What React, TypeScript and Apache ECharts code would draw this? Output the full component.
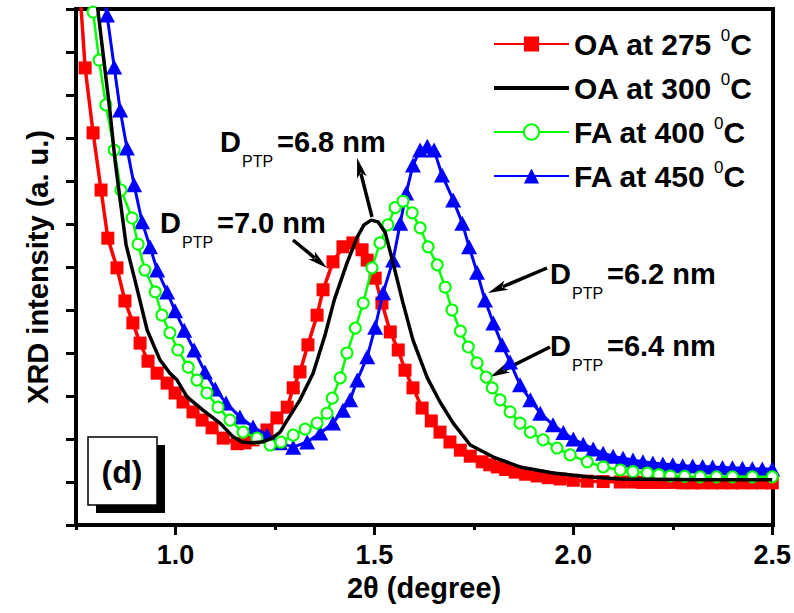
import React, { useEffect, useRef } from 'react';
import * as echarts from 'echarts';

// Series names (legend order)
const seriesNames = ['OA at 275 °C', 'OA at 300 °C', 'FA at 400 °C', 'FA at 450 °C'];

// x tick labels shown on the axis
const xMajorTicks = [1.0, 1.5, 2.0, 2.5];
const xMinorTicks = [0.75, 1.25, 1.75, 2.25];

// OA at 275 °C (red squares)
const oa275: number[][] = [
  [0.758, 12.67], [0.773, 10.63], [0.793, 9.12], [0.813, 7.79], [0.830, 6.67], [0.853, 5.98],
  [0.873, 5.21], [0.893, 4.70], [0.911, 4.23], [0.931, 3.81], [0.954, 3.53], [0.979, 3.30],
  [0.999, 3.07], [1.019, 2.86], [1.044, 2.63], [1.067, 2.44], [1.092, 2.26], [1.120, 2.02],
  [1.155, 1.89], [1.175, 1.91], [1.195, 1.98], [1.230, 2.21], [1.255, 2.49], [1.281, 2.74],
  [1.296, 3.19], [1.313, 3.56], [1.333, 4.19], [1.356, 4.88], [1.371, 5.47], [1.396, 6.12],
  [1.421, 6.47], [1.446, 6.56], [1.469, 6.40], [1.482, 6.16], [1.502, 5.74], [1.519, 5.16],
  [1.540, 4.49], [1.560, 4.07], [1.577, 3.60], [1.597, 3.19], [1.620, 2.72], [1.643, 2.42],
  [1.665, 2.16], [1.690, 1.93], [1.716, 1.74], [1.741, 1.60], [1.771, 1.47], [1.790, 1.40],
  [1.809, 1.35], [1.830, 1.29], [1.854, 1.23], [1.880, 1.18], [1.909, 1.14], [1.937, 1.10],
  [1.967, 1.07], [2.000, 1.04], [2.035, 1.02], [2.075, 1.01], [2.118, 1.00], [2.150, 1.00],
  [2.175, 0.99], [2.200, 0.99], [2.225, 0.99], [2.250, 0.99], [2.275, 0.98], [2.300, 0.98],
  [2.325, 0.98], [2.350, 0.98], [2.375, 0.98], [2.400, 0.98], [2.425, 0.98], [2.450, 0.98],
  [2.475, 0.98], [2.500, 0.98],
];

// OA at 300 °C (black line)
const oa300: number[][] = [
  [0.795, 12.67], [0.805, 11.98], [0.820, 10.81], [0.835, 9.65], [0.848, 8.49], [0.861, 7.56],
  [0.876, 6.51], [0.898, 5.70], [0.929, 4.53], [0.961, 3.84], [0.986, 3.53], [1.004, 3.37],
  [1.029, 2.98], [1.069, 2.67], [1.112, 2.37], [1.145, 2.05], [1.167, 1.93], [1.188, 1.91],
  [1.218, 1.93], [1.243, 2.02], [1.263, 2.16], [1.281, 2.44], [1.313, 2.91], [1.346, 3.53],
  [1.376, 4.42], [1.399, 5.23], [1.431, 6.09], [1.457, 6.70], [1.474, 6.98], [1.492, 7.09],
  [1.509, 7.05], [1.527, 6.81], [1.547, 6.09], [1.572, 5.16], [1.597, 4.30], [1.633, 3.42],
  [1.665, 2.86], [1.698, 2.37], [1.741, 1.86], [1.799, 1.58], [1.866, 1.35], [1.949, 1.21],
  [2.035, 1.12], [2.118, 1.07], [2.319, 1.05], [2.500, 1.05],
];

// FA at 400 °C (green open circles)
const fa400: number[][] = [
  [0.785, 12.56], [0.793, 11.93], [0.808, 10.81], [0.825, 9.77], [0.846, 8.72], [0.863, 7.79],
  [0.891, 7.14], [0.906, 6.53], [0.923, 5.93], [0.949, 5.42], [0.966, 4.88], [0.986, 4.47],
  [1.006, 4.07], [1.032, 3.67], [1.054, 3.37], [1.079, 3.07], [1.107, 2.74], [1.137, 2.44],
  [1.170, 2.16], [1.205, 2.02], [1.238, 1.86], [1.265, 1.93], [1.296, 2.09], [1.326, 2.23],
  [1.356, 2.37], [1.381, 2.60], [1.394, 2.95], [1.414, 3.42], [1.431, 4.00], [1.452, 4.58],
  [1.472, 5.16], [1.494, 5.98], [1.514, 6.56], [1.534, 6.98], [1.552, 7.38], [1.572, 7.53],
  [1.595, 7.26], [1.615, 6.91], [1.635, 6.47], [1.658, 6.05], [1.678, 5.53], [1.695, 5.00],
  [1.716, 4.51], [1.736, 4.14], [1.758, 3.77], [1.781, 3.44], [1.796, 3.19], [1.816, 2.91],
  [1.841, 2.63], [1.866, 2.37], [1.892, 2.16], [1.924, 1.98], [1.959, 1.79], [1.992, 1.63],
  [2.035, 1.47], [2.075, 1.35], [2.118, 1.28], [2.150, 1.24], [2.186, 1.21], [2.215, 1.17],
  [2.244, 1.14], [2.280, 1.13], [2.319, 1.12], [2.360, 1.12], [2.400, 1.12], [2.450, 1.12],
  [2.500, 1.12],
];

// FA at 450 °C (blue triangles)
const fa450: number[][] = [
  [0.810, 12.67], [0.828, 11.86], [0.846, 10.65], [0.861, 9.65], [0.878, 8.77], [0.896, 7.91],
  [0.916, 7.05], [0.936, 6.47], [0.954, 5.93], [0.979, 5.42], [0.999, 4.98], [1.022, 4.53],
  [1.047, 4.07], [1.074, 3.56], [1.100, 3.16], [1.127, 2.84], [1.162, 2.51], [1.195, 2.28],
  [1.230, 2.09], [1.263, 1.91], [1.296, 1.81], [1.331, 1.93], [1.364, 2.14], [1.396, 2.37],
  [1.421, 2.67], [1.439, 2.91], [1.457, 3.37], [1.482, 3.91], [1.502, 4.60], [1.522, 5.40],
  [1.547, 6.16], [1.565, 7.02], [1.580, 7.72], [1.597, 8.37], [1.615, 8.72], [1.633, 8.81],
  [1.650, 8.72], [1.670, 8.14], [1.698, 7.56], [1.721, 7.02], [1.738, 6.47], [1.758, 5.88],
  [1.778, 5.23], [1.799, 4.70], [1.821, 4.19], [1.841, 3.79], [1.866, 3.26], [1.892, 2.91],
  [1.917, 2.60], [1.949, 2.33], [1.975, 2.15], [2.000, 2.00], [2.025, 1.88], [2.050, 1.77],
  [2.075, 1.67], [2.100, 1.60], [2.125, 1.55], [2.150, 1.51], [2.175, 1.47], [2.200, 1.44],
  [2.225, 1.42], [2.250, 1.40], [2.275, 1.38], [2.300, 1.37], [2.325, 1.36], [2.350, 1.35],
  [2.375, 1.34], [2.400, 1.33], [2.425, 1.32], [2.450, 1.31], [2.475, 1.30], [2.500, 1.30],
];

// Annotation values (crystallite size, nm)
const dptpValues = ['6.8', '7.0', '6.2', '6.4'];

// Annotation layout: left of "D", cap centre y, arrow tail, arrow head
const annLayout = [
  { x: 220, y: 142, tail: [372, 217], head: [357, 158] },
  { x: 160, y: 223, tail: [293, 240], head: [327, 268] },
  { x: 550, y: 274, tail: [547, 268], head: [488, 293] },
  { x: 550, y: 346, tail: [550, 347], head: [490, 377] },
];

const FONT = '"Liberation Sans", Arial, Helvetica, sans-serif';

function arrow(t: number[], h: number[]) {
  const dx = h[0] - t[0];
  const dy = h[1] - t[1];
  const L = Math.hypot(dx, dy);
  const ux = dx / L;
  const uy = dy / L;
  const hl = 20;
  const hw = 5;
  const bx = h[0] - ux * hl;
  const by = h[1] - uy * hl;
  return [
    { type: 'line', shape: { x1: t[0], y1: t[1], x2: bx + ux * 4, y2: by + uy * 4 }, style: { stroke: '#000', lineWidth: 3.5 } },
    {
      type: 'polygon',
      shape: { points: [[h[0], h[1]], [bx - uy * hw, by + ux * hw], [bx + ux * 5, by + uy * 5], [bx + uy * hw, by - ux * hw]] },
      style: { fill: '#000' },
    },
  ];
}

function buildGraphics() {
  const g: any[] = [];
  // plot frame
  g.push({ type: 'rect', shape: { x: 76, y: 9, width: 697, height: 516 }, style: { fill: 'none', stroke: '#000', lineWidth: 4 }, silent: true });
  annLayout.forEach((a, i) => {
    g.push({ type: 'text', x: a.x, y: a.y, style: { text: 'D', font: `bold 29px ${FONT}`, fill: '#000', verticalAlign: 'middle', align: 'left' } });
    g.push({ type: 'text', x: a.x + 22, y: a.y + 19, style: { text: 'PTP', font: `16px ${FONT}`, fill: '#000', verticalAlign: 'middle', align: 'left' } });
    g.push({ type: 'text', x: a.x + 57, y: a.y, style: { text: `=${dptpValues[i]} nm`, font: `bold 29px ${FONT}`, fill: '#000', verticalAlign: 'middle', align: 'left' } });
    arrow(a.tail, a.head).forEach((e) => g.push(e));
  });
  // (d) panel label with shadow box
  g.push({ type: 'rect', shape: { x: 96, y: 445, width: 69, height: 68 }, style: { fill: '#000' } });
  g.push({ type: 'rect', shape: { x: 88, y: 437, width: 69, height: 68 }, style: { fill: '#fff', stroke: '#000', lineWidth: 1.5 } });
  g.push({ type: 'text', x: 122, y: 472, style: { text: '(d)', font: `bold 32px ${FONT}`, fill: '#000', align: 'center', verticalAlign: 'middle' } });
  return g;
}

export default function App() {
  const ref = useRef<HTMLDivElement>(null);
  useEffect(() => {
    const chart = echarts.init(ref.current!, null, { renderer: 'svg' });
    const option: any = {
      animation: false,
      backgroundColor: '#fff',
      grid: { left: 76, right: 21, top: 9, bottom: 88, show: false },
      legend: {
        data: [
          { name: seriesNames[0] },
          { name: seriesNames[1], itemStyle: { opacity: 0 }, lineStyle: { width: 4, color: '#000' } },
          { name: seriesNames[2] },
          { name: seriesNames[3] },
        ],
        left: 487,
        top: 22,
        orient: 'vertical',
        itemWidth: 75,
        itemHeight: 19,
        itemGap: 10,
        selectedMode: false,
        formatter: (name: string) => name.replace('°C', '{sup|0}C'),
        textStyle: {
          fontFamily: FONT, fontWeight: 'bold', fontSize: 30, color: '#000', lineHeight: 34,
          rich: {
            sup: { fontFamily: FONT, fontSize: 17, fontWeight: 'normal', color: '#000', verticalAlign: 'top', lineHeight: 6 },
          },
        },
      },
      xAxis: [
        {
          type: 'value', min: 0.75, max: 2.5, interval: 0.25,
          name: '2θ (degree)', nameLocation: 'middle', nameGap: 48,
          nameTextStyle: { fontFamily: FONT, fontWeight: 'bold', fontSize: 29, color: '#000' },
          axisLine: { show: true, onZero: false, lineStyle: { color: '#000', width: 4 } },
          axisTick: { show: true, inside: false, length: 10, lineStyle: { color: '#000', width: 3 }, customValues: xMajorTicks },
          axisLabel: {
            show: true, margin: 16, fontFamily: FONT, fontWeight: 'bold', fontSize: 27, color: '#000',
            customValues: xMajorTicks,
            formatter: (v: number) => (xMajorTicks.some((t) => Math.abs(t - v) < 1e-6) ? v.toFixed(1) : ''),
          },
          splitLine: { show: false },
        },
        {
          type: 'value', min: 0.75, max: 2.5, interval: 0.25, position: 'bottom',
          axisLine: { show: false },
          axisTick: { show: true, length: 5, lineStyle: { color: '#000', width: 3 }, customValues: xMinorTicks },
          axisLabel: { show: false },
          splitLine: { show: false },
        },
      ],
      yAxis: {
        type: 'value', min: 0, max: 12, interval: 1,
        name: 'XRD intensity (a. u.)', nameLocation: 'middle', nameGap: 24, nameRotate: 90,
        nameTextStyle: { fontFamily: FONT, fontWeight: 'bold', fontSize: 29, color: '#000' },
        axisLine: { show: true, onZero: false, lineStyle: { color: '#000', width: 4 } },
        axisTick: { show: true, inside: false, length: 10, lineStyle: { color: '#000', width: 3 } },
        axisLabel: { show: false },
        splitLine: { show: false },
      },
      series: [
        {
          type: 'line', name: seriesNames[0], data: oa275, symbol: 'rect', symbolSize: 13, z: 2,
          itemStyle: { color: '#ff0000' }, lineStyle: { color: '#ff0000', width: 3.5 },
        },
        {
          type: 'line', name: seriesNames[3], data: fa450, symbol: 'triangle', symbolSize: [16, 15], z: 3,
          itemStyle: { color: '#0000ff' }, lineStyle: { color: '#0000ff', width: 3 },
        },
        {
          type: 'line', name: seriesNames[2], data: fa400, symbol: 'emptyCircle', symbolSize: 11, z: 4,
          itemStyle: { color: '#00ff00', borderWidth: 1.5 }, lineStyle: { color: '#00ff00', width: 2.5 },
        },
        {
          type: 'line', name: seriesNames[1], data: oa300, symbol: 'none', z: 5,
          itemStyle: { color: '#000' }, lineStyle: { color: '#000', width: 3.5 },
        },
      ],
      graphic: buildGraphics(),
    };
    chart.setOption(option);
    return () => chart.dispose();
  }, []);
  return <div ref={ref} style={{ position: 'absolute', left: 0, top: 0, width: 794, height: 613 }} />;
}
